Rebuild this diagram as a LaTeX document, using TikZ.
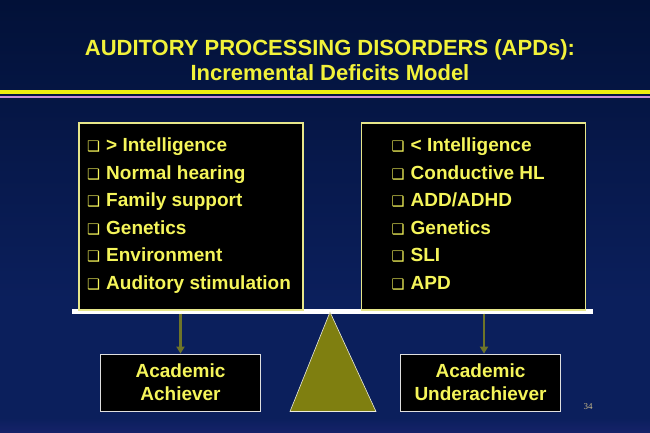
\documentclass[tikz,border=0pt]{standalone}
\usepackage{fontspec}
\setmainfont{Liberation Sans}
\newfontfamily\dejavu{DejaVu Sans}
\newfontfamily\timesf{Liberation Serif}
\usetikzlibrary{arrows.meta}
\definecolor{bgtop}{HTML}{021138}
\definecolor{bgmid}{HTML}{0B1F5C}
\definecolor{bgbot}{HTML}{16226A}
\definecolor{ttl}{HTML}{F2F23A}
\definecolor{txt}{HTML}{F5F55A}
\definecolor{boxedge}{HTML}{E6E68A}
\definecolor{olive}{HTML}{7F7F10}
\definecolor{arrowc}{HTML}{6E7428}
\definecolor{lilac}{HTML}{C890D8}
\definecolor{yline}{HTML}{EEEE10}
\definecolor{pgnum}{HTML}{C8B88A}
\tikzset{
  listbox/.style={draw=boxedge, line width=1.2pt, fill=black, minimum width=224pt, minimum height=187pt, inner sep=0pt},
  resbox/.style={draw=white!75!gray, line width=0.8pt, fill=black, minimum width=160pt, minimum height=57pt, inner sep=0pt},
  item/.style={text=txt, font=\bfseries\fontsize{19}{22}\selectfont, inner sep=0pt, anchor=base west},
  restext/.style={text=txt, font=\bfseries\fontsize{19}{23}\selectfont, align=center, inner sep=0pt},
  titletext/.style={text=ttl, font=\bfseries\fontsize{22}{25}\selectfont, inner sep=0pt, anchor=base},
  conn/.style={draw=arrowc, line width=2.2pt, -{Triangle[length=7pt,width=8pt]}},
}
\newcommand{\bul}{{\dejavu\fontsize{14.5}{14.5}\selectfont ❑}\hspace{6pt}}
\begin{document}
\begin{tikzpicture}[x=1pt,y=-1pt]
\useasboundingbox (0,0) rectangle (650,433);
\shade[top color=bgtop, bottom color=bgmid] (0,0) rectangle (650,300);
\fill[bgmid] (0,300) rectangle (650,418);
\shade[top color=bgmid, bottom color=bgbot] (0,418) rectangle (650,433);
% title
\node[titletext] (t1) at (330,56) {AUDITORY PROCESSING DISORDERS (APDs):};
\node[titletext] (t2) at (330,80.5) {Incremental Deficits Model};
% lines
\fill[yline] (0,90.5) rectangle (650,94);
\fill[lilac] (0,96) rectangle (650,98.5);
% beam
\fill[white] (72,309) rectangle (593,313.5);
% boxes
\node[listbox] (lbox) at (191,216.5) {};
\node[listbox] (rbox) at (473.5,216.5) {};
\foreach \t [count=\i] in {{> Intelligence},{Normal hearing},{Family support},{Genetics},{Environment},{Auditory stimulation}}
  \node[item] (l\i) at (87,{151.5+27.6*(\i-1)}) {\bul\t};
\foreach \t [count=\i] in {{< Intelligence},{Conductive HL},{ADD/ADHD},{Genetics},{SLI},{APD}}
  \node[item] (r\i) at (391.5,{151.5+27.6*(\i-1)}) {\bul\t};
% fulcrum
\fill[olive, draw=white!85!olive, line width=0.6pt] (330,312) -- (376,411.5) -- (290,411.5) -- cycle;
% result boxes
\node[resbox] (lres) at (180.5,382.5) {};
\node[resbox] (rres) at (480.5,382.5) {};
\node[restext] (lrest) at (lres) {Academic\\Achiever};
\node[restext] (rrest) at (rres) {Academic\\Underachiever};
% arrows
\coordinate (la) at (180.5,313.5);
\coordinate (ra) at (484,313.5);
\draw[conn] (la) -- (la |- lres.north);
\draw[conn] (ra) -- (ra |- rres.north);
% page number
\node[text=pgnum, font=\timesf\fontsize{9}{9}\selectfont, inner sep=0pt] (pg) at (588,407) {34};
\end{tikzpicture}
\end{document}
